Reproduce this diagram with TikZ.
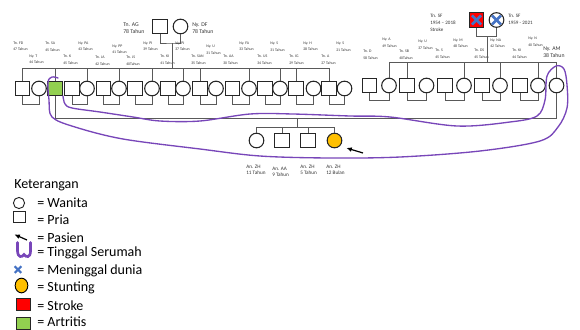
\documentclass[tikz,border=0pt]{standalone}
\usepackage{fontspec}
\setmainfont{Carlito}
\usetikzlibrary{arrows.meta, shapes.geometric}
\definecolor{pedline}{RGB}{89, 89, 89}
\definecolor{artgreen}{RGB}{146, 208, 80}
\definecolor{strokered}{RGB}{255, 0, 0}
\definecolor{stuntorange}{RGB}{255, 192, 0}
\definecolor{deadblue}{RGB}{68, 114, 196}
\definecolor{housepurple}{RGB}{120, 70, 185}

\begin{document}
\begin{tikzpicture}[x=0.75pt, y=-0.75pt, >=Latex,
    male/.style={
        draw=black!85, line width=0.8pt, fill=white,
        minimum size=10.8pt, inner sep=0pt
    },
    female/.style={
        circle, draw=black!85, line width=0.8pt, fill=white,
        minimum size=11pt, inner sep=0pt
    },
    wire/.style={draw=pedline, line width=0.7pt},
    deadx/.style={deadblue, line width=2pt},
    house/.style={housepurple, line width=1pt, line cap=round},
    pasien/.style={-{Latex[length=4pt, width=3.6pt]}, line width=0.9pt, black},
    tlabel/.style={anchor=west, align=left, inner sep=0pt, text=black!80,
        font=\fontsize{2.9}{4.9}\selectfont},
    glabel/.style={anchor=west, align=left, inner sep=0pt, text=black!80,
        font=\fontsize{4.3}{5.3}\selectfont},
    dlabel/.style={anchor=west, align=left, inner sep=0pt, text=black!80,
        font=\fontsize{3.8}{5.3}\selectfont},
    klabel/.style={anchor=west, align=left, inner sep=0pt, text=black!80,
        font=\fontsize{3.9}{4.6}\selectfont},
    legtext/.style={anchor=west, inner sep=0pt, font=\fontsize{10.5}{12}\selectfont},
]
\useasboundingbox (0,0) rectangle (580,329);

% --- Coordenadas ---
\def\yg{26.5}
\def\ygr{20}
\def\yL{88.5}
\def\yR{85.5}
\def\ykids{140.5}

\coordinate (sibL) at (22.5, 68);
\coordinate (sibR) at (389, 62.5);
\coordinate (marY) at (297, 118);
\coordinate (kidY) at (297, 127);

% --- Generasi I ---
\node[male]   (AG)  at (160, \yg) {};
\node[female] (DF)  at (180.5, \yg) {};
\node[glabel] (lAG) at (123, 28.5) {Tn. AG\\78 Tahun};
\node[glabel] (lDF) at (192, 28) {Ny. DF\\78 Tahun};

\node[male, fill=strokered] (SFm) at (476.5, \ygr) {};
\node[female]               (SFf) at (496.5, \ygr) {};
\draw[deadx, shorten <=3.4pt, shorten >=3.4pt] (SFm.north west) -- (SFm.south east);
\draw[deadx, shorten <=3.4pt, shorten >=3.4pt] (SFm.south west) -- (SFm.north east);
\draw[deadx, shorten <=1.2pt, shorten >=1.2pt] (SFf.north west) -- (SFf.south east);
\draw[deadx, shorten <=1.2pt, shorten >=1.2pt] (SFf.south west) -- (SFf.north east);
\node[dlabel] (lSFm) at (430, 23) {Tn. SF\\1954 -- 2018\\Stroke};
\node[dlabel] (lSFf) at (508, 19.5) {Tn. SF\\1959 - 2021};

% --- Generasi II: keluarga kiri ---
\node[male]                 (FD)  at (22.5, \yL) {};
\node[female]               (T)   at (39, \yL) {};
\node[male, fill=artgreen]  (SA)  at (55, \yL) {};
\node[male]                 (K)   at (72, \yL) {};
\node[female]               (PA)  at (87, \yL) {};
\node[male]                 (JA)  at (103.5, \yL) {};
\node[female]               (PP)  at (119, \yL) {};
\node[male]                 (JS)  at (135, \yL) {};
\node[female]               (PI)  at (152, \yL) {};
\node[male]                 (KI)  at (168, \yL) {};
\node[female]               (PJ)  at (183, \yL) {};
\node[male]                 (SAN) at (200, \yL) {};
\node[female]               (U)   at (216, \yL) {};
\node[male]                 (AA)  at (232.5, \yL) {};
\node[female]               (FA)  at (249, \yL) {};
\node[male]                 (US)  at (265, \yL) {};
\node[female]               (S)   at (280, \yL) {};
\node[male]                 (IG)  at (296, \yL) {};
\node[female]               (H)   at (313.5, \yL) {};
\node[male]                 (A)   at (329, \yL) {};
\node[female]               (S2)  at (344.5, \yL) {};

\node[tlabel] (lFD)  at (13, 46.5)  {Tn. FD\\47 Tahun};
\node[tlabel] (lT)   at (29, 59.5)  {Ny. T\\44 Tahun};
\node[tlabel] (lSA)  at (45, 46.5)  {Tn. SA\\45 Tahun};
\node[tlabel] (lK)   at (63, 60)    {Tn. K\\45 Tahun};
\node[tlabel] (lPA)  at (78, 46.5)  {Ny. PA\\43 Tahun};
\node[tlabel] (lJA)  at (95, 61)    {Tn. JA\\42 Tahun};
\node[tlabel] (lPP)  at (112, 49.5) {Ny. PP\\41 Tahun};
\node[tlabel] (lJS)  at (126, 61)   {Tn. JS\\40Tahun};
\node[tlabel] (lPI)  at (143, 46.5) {Ny. PI\\39 Tahun};
\node[tlabel] (lKI)  at (160, 60)   {Tn. KI\\41 Tahun};
\node[tlabel] (lPJ)  at (175, 46.5) {Ny. PJ\\37 Tahun};
\node[tlabel] (lSAN) at (191, 60)   {Tn. SAN\\35 Tahun};
\node[tlabel] (lU)   at (206, 50)   {Ny. U\\31 Tahun};
\node[tlabel] (lAA)  at (223, 60)   {Tn. AA\\30 Tahun};
\node[tlabel] (lFA)  at (239, 46.5) {Ny. FA\\33 Tahun};
\node[tlabel] (lUS)  at (257, 60)   {Tn. US\\34 Tahun};
\node[tlabel] (lS)   at (270, 46.5) {Ny. S\\31 Tahun};
\node[tlabel] (lIG)  at (289, 60)   {Tn. IG\\29 Tahun};
\node[tlabel] (lH)   at (303, 46.5) {Ny. H\\28 Tahun};
\node[tlabel] (lA)   at (321, 60)   {Tn. A\\27 Tahun};
\node[tlabel] (lS2)  at (336, 46.5) {Ny. S\\21 Tahun};

% --- Generasi II: keluarga kanan ---
\node[male]   (D)   at (369.5, \yR) {};
\node[female] (NyA) at (389, \yR) {};
\node[male]   (SB)  at (407, \yR) {};
\node[female] (U2)  at (426.5, \yR) {};
\node[male]   (TS)  at (445, \yR) {};
\node[female] (M)   at (464, \yR) {};
\node[male]   (DS)  at (482, \yR) {};
\node[female] (NA)  at (500, \yR) {};
\node[male]   (KI2) at (520, \yR) {};
\node[female] (N)   at (538, \yR) {};
\node[female] (AM)  at (556.5, \yR) {};

\node[tlabel] (lD)   at (363, 55)   {Tn. D\\58 Tahun};
\node[tlabel] (lNyA) at (382, 43)   {Ny. A\\49 Tahun};
\node[tlabel] (lSB)  at (399, 55)   {Tn. SB\\40Tahun};
\node[tlabel] (lU2)  at (418, 45)   {Ny. U\\37 Tahun};
\node[tlabel] (lTS)  at (435, 54)   {Tn. S\\45 Tahun};
\node[tlabel] (lM)   at (453, 43.5) {Ny. M\\48 Tahun};
\node[tlabel] (lDS)  at (474, 54)   {Tn. DS\\45 Tahun};
\node[tlabel] (lNA)  at (490, 43.5) {Ny. NA\\42 Tahun};
\node[tlabel] (lKI2) at (512, 54)   {Tn. KI\\44 Tahun};
\node[tlabel] (lN)   at (528, 42)   {Ny. N\\40 Tahun};
\node[glabel] (lAM)  at (543, 52.5) {Ny. AM\\38 Tahun};

% --- Generasi III ---
\node[female]                   (ZH11) at (256.5, \ykids) {};
\node[male]                     (AA9)  at (282, \ykids) {};
\node[male]                     (ZH5)  at (308, \ykids) {};
\node[female, fill=stuntorange] (ZH12) at (334.5, \ykids) {};

\node[klabel] (lZH11) at (246, 170) {An. ZH\\11 Tahun};
\node[klabel] (lAA9)  at (272, 172) {An. AA\\9 Tahun};
\node[klabel] (lZH5)  at (300, 170) {An. ZH\\5 Tahun};
\node[klabel] (lZH12) at (326, 170) {An. ZH\\12 Bulan};

% --- Garis pernikahan dan keturunan ---
\coordinate (gpL) at (172, 43);
\draw[wire] (AG.south) |- (gpL) -| (DF.south);
\draw[wire] (gpL) -- (gpL |- sibL);
\draw[wire] (FD.north) |- (A.north |- sibL) -- (A.north);
\draw[wire] (SA.north) -- (SA.north |- sibL);
\draw[wire] (PA.north) -- (PA.north |- sibL);
\draw[wire] (PP.north) -- (PP.north |- sibL);
\draw[wire] (PI.north) -- (PI.north |- sibL);
\draw[wire] (PJ.north) -- (PJ.north |- sibL);
\draw[wire] (SAN.north) -- (SAN.north |- sibL);
\draw[wire] (FA.north) -- (FA.north |- sibL);
\draw[wire] (S.north) -- (S.north |- sibL);
\draw[wire] (IG.north) -- (IG.north |- sibL);

\coordinate (gpR) at (487, 36.5);
\draw[wire] (SFm.south) |- (gpR) -| (SFf.south);
\draw[wire] (gpR) -- (gpR |- sibR);
\draw[wire] (NyA.north) |- (AM.north |- sibR) -- (AM.north);
\draw[wire] (SB.north) -- (SB.north |- sibR);
\draw[wire] (M.north) -- (M.north |- sibR);
\draw[wire] (NA.north) -- (NA.north |- sibR);
\draw[wire] (N.north) -- (N.north |- sibR);

\draw[wire] (FD.south)  -- ++(0,8) -| (T.south);
\draw[wire] (K.south)   -- ++(0,8) -| (PA.south);
\draw[wire] (JA.south)  -- ++(0,8) -| (PP.south);
\draw[wire] (JS.south)  -- ++(0,8) -| (PI.south);
\draw[wire] (KI.south)  -- ++(0,8) -| (PJ.south);
\draw[wire] (SAN.south) -- ++(0,8) -| (U.south);
\draw[wire] (AA.south)  -- ++(0,8) -| (FA.south);
\draw[wire] (US.south)  -- ++(0,8) -| (S.south);
\draw[wire] (IG.south)  -- ++(0,8) -| (H.south);
\draw[wire] (A.south)   -- ++(0,8) -| (S2.south);

\draw[wire] (D.south)   -- ++(0,7) -| (NyA.south);
\draw[wire] (SB.south)  -- ++(0,7) -| (U2.south);
\draw[wire] (TS.south)  -- ++(0,7) -| (M.south);
\draw[wire] (DS.south)  -- ++(0,7) -| (NA.south);
\draw[wire] (KI2.south) -- ++(0,7) -| (N.south);

\draw[wire] (SA.south) |- (AM.south |- marY) -- (AM.south);
\draw[wire] (marY) -- (kidY);
\draw[wire] (ZH11.north) |- (ZH12.north |- kidY) -- (ZH12.north);
\draw[wire] (AA9.north) -- (AA9.north |- kidY);
\draw[wire] (ZH5.north) -- (ZH5.north |- kidY);

% --- Tinggal serumah ---
\draw[house] plot[smooth, tension=0.55] coordinates {
    (63,96) (65,104) (72,108) (100,112) (133,117) (160,121) (200,121)
    (250,114) (293,114) (350,116) (390,117) (457,126) (510,122) (537,116)
    (545,100) (547,76) (556,66) (564,69) (567,85) (567,108) (558,127)
    (540,141) (480,151) (400,157) (330,158) (260,156) (200,149) (123,139)
    (75,127) (52,117) (49,100) (48,82) (52,77) (58,78)};

% --- Pasien ---
\coordinate (pasTail) at (363, 153);
\draw[pasien, shorten >=5pt] (pasTail) -- (ZH12.south east);

% --- Keterangan ---
\node[legtext] (legT) at (14, 185) {Keterangan};

\node[female, minimum size=8.4pt, line width=0.7pt] (legF) at (19, 203) {};
\node[legtext] (legFt) at (37, 203) {= Wanita};

\node[male, minimum size=8.6pt, line width=0.7pt] (legM) at (19.5, 217) {};
\node[legtext] (legMt) at (37, 220) {= Pria};

\coordinate (legAs) at (27, 240);
\coordinate (legAe) at (14.5, 234.5);
\draw[pasien] (legAs) -- (legAe);
\node[legtext] (legAt) at (37, 238) {= Pasien};

\draw[housepurple, line width=2pt, line cap=round]
    (17.5,242.5) -- (17.5,251) .. controls (18,258) and (22,257.5) .. (24,254.5)
    .. controls (26,257.5) and (30.5,258) .. (30.5,251) -- (30.5,242.5);
\node[legtext] (legHt) at (37, 253) {= Tinggal Serumah};

\node[inner sep=0pt, minimum size=4.6pt] (legX) at (18, 269.5) {};
\draw[deadx, line width=1.6pt] (legX.north west) -- (legX.south east);
\draw[deadx, line width=1.6pt] (legX.south west) -- (legX.north east);
\node[legtext] (legXt) at (37, 271) {= Meninggal dunia};

\node[ellipse, draw=black, line width=0.7pt, fill=stuntorange,
      minimum width=9.5pt, minimum height=11pt, inner sep=0pt] (legS) at (21.5, 285.5) {};
\node[legtext] (legSt) at (37, 288) {= Stunting};

\node[draw=black!85, line width=0.7pt, fill=strokered,
      minimum width=10.5pt, minimum height=9pt, inner sep=0pt] (legR) at (23, 304) {};
\node[legtext] (legRt) at (37, 305.5) {= Stroke};

\node[draw=black!85, line width=0.7pt, fill=artgreen,
      minimum width=10.5pt, minimum height=9pt, inner sep=0pt] (legG) at (23, 323) {};
\node[legtext] (legGt) at (37, 321.5) {= Artritis};

\end{tikzpicture}
\end{document}
